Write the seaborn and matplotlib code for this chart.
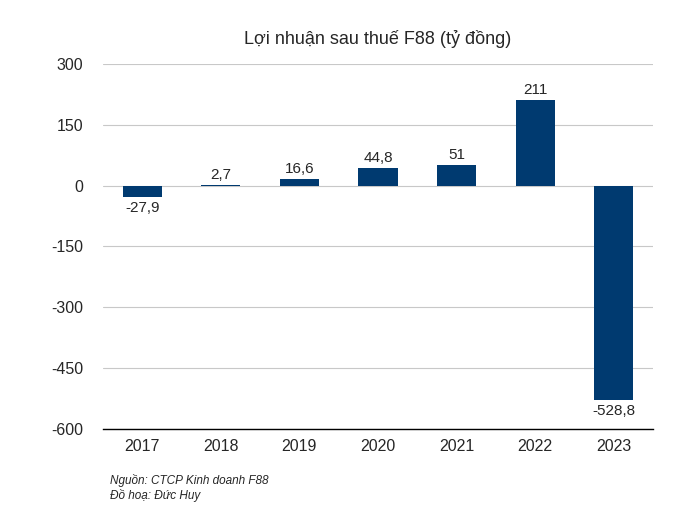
import pandas as pd
import matplotlib
matplotlib.use("Agg")
import matplotlib.pyplot as plt
import seaborn as sns

years = ["2017", "2018", "2019", "2020", "2021", "2022", "2023"]
profit = [-27.9, 2.7, 16.6, 44.8, 51, 211, -528.8]
labels = ["-27,9", "2,7", "16,6", "44,8", "51", "211", "-528,8"]
yticks = [300, 150, 0, -150, -300, -450, -600]

df = pd.DataFrame({"Year": years, "Profit": profit})

sns.set_style("white")
plt.rcParams["font.family"] = ["Liberation Sans", "DejaVu Sans"]

fig = plt.figure(figsize=(7, 5.25), dpi=100)
ax = fig.add_axes([0.147, 0.183, 0.786, 0.695])

sns.barplot(data=df, x="Year", y="Profit", color="#003a70", width=0.5,
            saturation=1, linewidth=0, ax=ax, zorder=3)

ax.set_ylim(-600, 300)
ax.set_yticks(yticks)
ax.set_yticklabels([str(t) for t in yticks], fontsize=11.5)
ax.tick_params(axis="x", labelsize=11.5, length=0, pad=7)
ax.tick_params(axis="y", length=0, pad=14)
ax.grid(axis="y", color="#c8c8c8", linewidth=0.8, zorder=0)
ax.set_axisbelow(True)
ax.set_xlabel("")
ax.set_ylabel("")
for s in ["top", "right", "left"]:
    ax.spines[s].set_visible(False)
ax.spines["bottom"].set_color("black")
ax.spines["bottom"].set_linewidth(1)

for i, (v, lab) in enumerate(zip(profit, labels)):
    if v >= 0:
        ax.annotate(lab, (i, v), xytext=(0, 2), textcoords="offset points",
                    ha="center", va="bottom", fontsize=11)
    else:
        ax.annotate(lab, (i, v), xytext=(0, -3), textcoords="offset points",
                    ha="center", va="top", fontsize=11)

fig.text(0.54, 0.925, "Lợi nhuận sau thuế F88 (tỷ đồng)", ha="center",
         va="center", fontsize=13)
fig.text(0.157, 0.085, "Nguồn: CTCP Kinh doanh F88", fontsize=8.5,
         style="italic", va="center")
fig.text(0.157, 0.057, "Đồ hoạ: Đức Huy", fontsize=8.5, style="italic",
         va="center")

fig.savefig("out.png", dpi=100)
